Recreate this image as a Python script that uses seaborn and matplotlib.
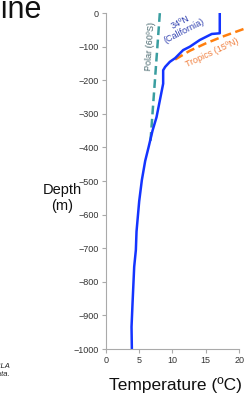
import matplotlib
matplotlib.use("Agg")
import matplotlib.pyplot as plt
import seaborn as sns
import pandas as pd

# --- data ---
cal_temp = [17.1, 17.1, 15.9, 14.1, 12.6, 11.6, 10.4, 9.6, 8.9, 8.6, 8.6, 8.2, 7.9, 7.6,
            7.0, 6.4, 5.9, 5.4, 5.0, 4.6, 4.5, 4.25, 4.0, 3.85, 3.9]
cal_depth = [0, -60, -62, -80, -100, -110, -134, -145, -160, -170, -210, -250, -280, -310,
             -350, -400, -440, -497, -560, -650, -705, -755, -864, -934, -1000]
trop_temp = [10.4, 12.6, 15.0, 17.5, 21.0]
trop_depth = [-138, -112, -90, -70, -45]
polar_temp = [8.1, 6.7]
polar_depth = [0, -380]
x_ticks = [0, 5, 10, 15, 20]
y_ticks = [0, -100, -200, -300, -400, -500, -600, -700, -800, -900, -1000]

sns.set_theme(style="white")
plt.rcParams['font.family'] = ['Liberation Sans', 'DejaVu Sans']

fig = plt.figure(figsize=(2.48, 3.98), dpi=100)
ax = fig.add_axes([0.427, 0.123, 0.537, 0.844])

polar = pd.DataFrame({"T": polar_temp, "D": polar_depth})
trop = pd.DataFrame({"T": trop_temp, "D": trop_depth})
cal = pd.DataFrame({"T": cal_temp, "D": cal_depth})

sns.lineplot(data=polar, x="T", y="D", sort=False, estimator=None, ax=ax,
             color="#3a9ea0", lw=1.8, linestyle=(0, (3.5, 1.8)))
sns.lineplot(data=trop, x="T", y="D", sort=False, estimator=None, ax=ax,
             color="#ff7f0e", lw=1.8, linestyle=(0, (3.5, 1.8)))
ax.lines[-1].set_clip_on(False)
sns.lineplot(data=cal, x="T", y="D", sort=False, estimator=None, ax=ax,
             color="#1434ff", lw=1.8)

ax.set_xlim(0, 20)
ax.set_ylim(-1000, 0)
ax.set_xticks(x_ticks)
ax.set_yticks(y_ticks)
ax.set_xlabel("")
ax.set_ylabel("")
for s in ["top", "right"]:
    ax.spines[s].set_visible(False)
for s in ["left", "bottom"]:
    ax.spines[s].set_color("#aaaaaa")
    ax.spines[s].set_linewidth(0.8)
ax.tick_params(axis="both", which="major", length=3, width=0.8, color="#aaaaaa",
               labelsize=6.5, labelcolor="#333333", direction="out", pad=2,
               bottom=True, left=True)

ax.text(11.5, -40, "34ºN\n(California)", rotation=27, color="#3040b0", fontsize=6.5,
        ha="center", va="center", linespacing=1.0)
ax.text(15.9, -118, "Tropics (15ºN)", rotation=25, color="#f08040", fontsize=6.5,
        ha="center", va="center")
ax.text(6.6, -100, "Polar (60ºS)", rotation=86, color="#4a6a70", fontsize=6.5,
        ha="center", va="center")

fig.text(62 / 248, 1 - 198 / 398, "Depth\n(m)", fontsize=10.5, ha="center", va="center",
         color="#111111", linespacing=1.1)
fig.text(175 / 248, 1 - 385 / 398, "Temperature (ºC)", fontsize=12.5, ha="center",
         va="center", color="#111111")
fig.text(42 / 248, 1 - 18 / 398, "Thermocline", fontsize=22, ha="right", va="baseline",
         color="#111111")
fig.text(10 / 248, 1 - 370 / 398, "Source: UCLA\nOcean data.", fontsize=5.5, ha="right",
         va="center", style="italic", color="#222222")

fig.savefig("out.png", dpi=100)
